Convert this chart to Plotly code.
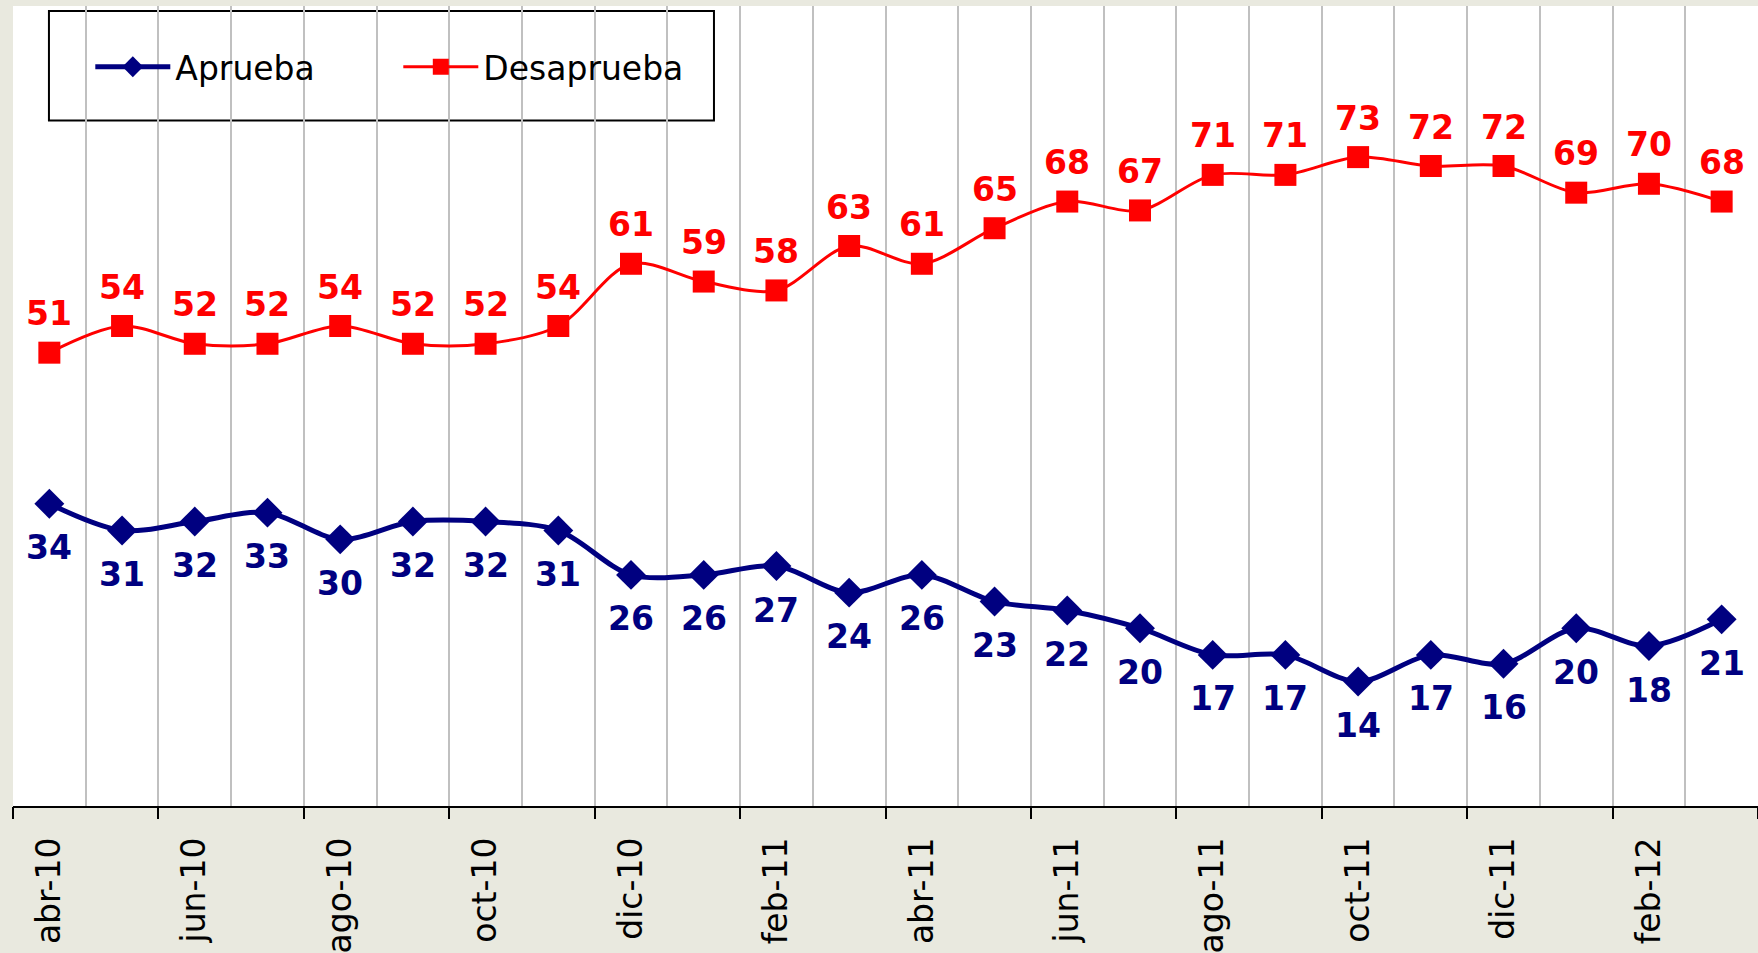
import plotly.graph_objects as go

# Monthly approval survey, abr-10 .. mar-12
meses = ["abr-10", "may-10", "jun-10", "jul-10", "ago-10", "sep-10", "oct-10", "nov-10",
         "dic-10", "ene-11", "feb-11", "mar-11", "abr-11", "may-11", "jun-11", "jul-11",
         "ago-11", "sep-11", "oct-11", "nov-11", "dic-11", "ene-12", "feb-12", "mar-12"]
aprueba = [34, 31, 32, 33, 30, 32, 32, 31, 26, 26, 27, 24, 26, 23, 22, 20,
           17, 17, 14, 17, 16, 20, 18, 21]
desaprueba = [51, 54, 52, 52, 54, 52, 52, 54, 61, 59, 58, 63, 61, 65, 68, 67,
              71, 71, 73, 72, 72, 69, 70, 68]

NAVY = "#000080"
RED = "#FF0000"
BG = "#E9E9DF"
FONT = "DejaVu Sans"

idx = list(range(len(meses)))
n = len(meses)
x_range = [-0.5, n - 0.5]

fig = go.Figure()

fig.add_trace(go.Scatter(
    x=idx, y=aprueba, name="Aprueba",
    mode="lines+markers",
    line=dict(color=NAVY, width=5, shape="spline", smoothing=0.9),
    marker=dict(symbol="diamond", size=23, color=NAVY),
))
fig.add_trace(go.Scatter(
    x=idx, y=desaprueba, name="Desaprueba",
    mode="lines+markers",
    line=dict(color=RED, width=3, shape="spline", smoothing=0.9),
    marker=dict(symbol="square", size=22, color=RED),
))

# value labels: below the approval points, above the disapproval points
annotations = []
for i, v in zip(idx, aprueba):
    annotations.append(dict(
        x=i, y=v, xref="x", yref="y", text=str(v), showarrow=False,
        yshift=-44, font=dict(family=FONT, size=33, color=NAVY, weight="bold"),
    ))
for i, v in zip(idx, desaprueba):
    annotations.append(dict(
        x=i, y=v, xref="x", yref="y", text=str(v), showarrow=False,
        yshift=39, font=dict(family=FONT, size=33, color=RED, weight="bold"),
    ))

boundaries = [i - 0.5 for i in range(n + 1)]

fig.update_layout(
    width=1758, height=953,
    margin=dict(l=13, r=0, t=6, b=143),
    paper_bgcolor=BG, plot_bgcolor="white",
    font=dict(family=FONT, color="black"),
    showlegend=True,
    annotations=annotations,
    legend=dict(
        orientation="h", x=0.0443, y=0.924, xanchor="left", yanchor="middle",
        font=dict(family=FONT, size=33, color="black"),
        bgcolor="rgba(0,0,0,0)", borderwidth=0,
        itemwidth=75, entrywidth=218, entrywidthmode="pixels",
        traceorder="normal",
    ),
    # gridlines between every month, axis line at the bottom
    xaxis=dict(
        range=x_range, tickmode="array", tickvals=boundaries,
        showticklabels=False, ticks="",
        showgrid=True, gridcolor="#C0C0C0", gridwidth=2,
        showline=True, linecolor="black", linewidth=2,
        zeroline=False,
    ),
    # tick marks every second month
    xaxis2=dict(
        range=x_range, overlaying="x", anchor="y", side="bottom",
        tickmode="array", tickvals=boundaries[::2],
        ticks="outside", ticklen=12, tickwidth=2, tickcolor="black",
        showticklabels=False, showgrid=False, zeroline=False,
    ),
    # month labels every second month
    xaxis3=dict(
        range=x_range, overlaying="x", anchor="y", side="bottom",
        tickmode="array", tickvals=idx[::2], ticktext=meses[::2],
        ticks="", tickangle=-90, ticklabelstandoff=24,
        tickfont=dict(family=FONT, size=33, color="black"),
        showgrid=False, zeroline=False,
    ),
    yaxis=dict(
        range=[0, 90], showgrid=False, showticklabels=False,
        ticks="", zeroline=False, showline=False,
    ),
    shapes=[dict(
        type="rect", xref="paper", yref="paper",
        x0=0.0206, x1=0.4017, y0=0.857, y1=0.9938,
        line=dict(color="black", width=2), fillcolor="white", layer="below",
    )],
)

# empty traces so the overlay axes are rendered
fig.add_trace(go.Scatter(x=[], y=[], xaxis="x2", showlegend=False, hoverinfo="skip"))
fig.add_trace(go.Scatter(x=[], y=[], xaxis="x3", showlegend=False, hoverinfo="skip"))

fig.write_html("out.html")
